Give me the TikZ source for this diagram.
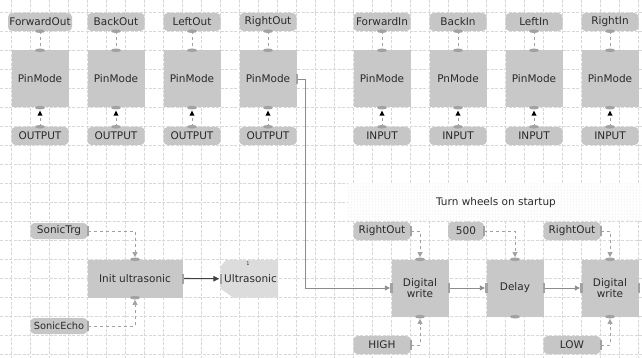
\documentclass[tikz,border=0pt]{standalone}
\usepackage{fontspec}
\setmainfont{DejaVu Sans}
\usetikzlibrary{arrows.meta,patterns}
\definecolor{boxc}{HTML}{C8C8C8}
\definecolor{lblc}{HTML}{C6C6C6}
\definecolor{ultc}{HTML}{DCDCDC}
\definecolor{txtc}{HTML}{2A2A2A}
\definecolor{portc}{HTML}{A2A2A2}
\definecolor{gridc}{HTML}{D8D8D8}
\definecolor{wirec}{HTML}{8C8C8C}
\definecolor{dashc}{HTML}{A0A0A0}
\newcommand\vportmark[1]{\fill[portc] (#1) ellipse (5pt and 1.8pt);}
\newcommand\hportmark[1]{\fill[portc] (#1) ++(-1.2,-5) rectangle ++(2.4,10);}
\begin{document}
\begin{tikzpicture}[x=1pt,y=-1pt,
  every node/.style={font=\fontsize{10.5}{11.8}\selectfont, text=txtc},
  blk/.style={fill=boxc, draw=none, minimum width=57pt, minimum height=57pt, inner sep=0pt, align=center},
  lbl/.style={fill=lblc, draw=none, rounded corners=4pt, minimum width=57pt, minimum height=18pt, inner sep=0pt},
  gridline/.style={gridc, line width=0.5pt, dash pattern=on 3pt off 1.5pt},
  dcon/.style={dashc, line width=0.6pt, dash pattern=on 3pt off 3pt},
  blktip/.style={-{Triangle[width=5pt,length=5pt]}, shorten >=2.2pt},
  wire/.style={wirec, line width=0.9pt, -{Triangle[width=5pt,length=5pt,fill=wirec]}, shorten >=1.5pt},
  darkwire/.style={black!75, line width=1.1pt, -{Triangle[width=5.5pt,length=6pt]}, shorten >=1.5pt}]
\useasboundingbox (0,0) rectangle (642,358);
\fill[white] (0,0) rectangle (642,358);
% grid
\foreach \k in {0,...,33} { \draw[gridline] (11.5+19*\k,0) -- (11.5+19*\k,358); }
\foreach \k in {0,...,18} { \draw[gridline] (0,12.5+19*\k) -- (642,12.5+19*\k); }
% comment background
\fill[white] (348,183) rectangle (642,221);
\fill[pattern=dots, pattern color=gray!28] (348,183) rectangle (642,221);
\node (title) at (496,203) {Turn wheels on startup};
% top row
\foreach \nm/\x/\labT/\labB/\mtxt/\tw in {
  fo/40/ForwardOut/OUTPUT/PinMode/64,
  bo/116/BackOut/OUTPUT/PinMode/57,
  lo/192/LeftOut/OUTPUT/PinMode/57,
  ro/268/RightOut/OUTPUT/PinMode/57,
  fi/382/ForwardIn/INPUT/PinMode/57,
  bi/458/BackIn/INPUT/PnMode/57,
  li/534/LeftIn/INPUT/PinMode/57,
  ri/610/RightIn/INPUT/PinMode/57}{
  \fill[white] (\x-6,31.5) rectangle (\x+6,50.5);
  \fill[white] (\x-6,107.5) rectangle (\x+6,126.5);
  \node[blk] (\nm) at (\x,79) {\mtxt};
  \node[lbl, minimum width=\tw pt] (\nm-t) at (\x,22) {\labT};
  \node[lbl] (\nm-b) at (\x,136) {\labB};
  \draw[dcon] (\nm-t.south) -- (\nm.north);
  \draw[dcon] (\nm-b.north) -- (\nm.south);
  \vportmark{\nm-t.south}
  \vportmark{\nm.north}
  \vportmark{\nm.south}
  \vportmark{\nm-b.north}
  \fill[black] ([yshift=-3pt]\nm.south) -- ++(-2.6,5) -- ++(5.2,0) -- cycle;
}
% lower left
\node[lbl, minimum height=16pt] (st) at (59,231) {SonicTrg};
\node[lbl, minimum height=16pt, font=\fontsize{9.8}{11}\selectfont] (se) at (59,326) {SonicEcho};
\node[blk, minimum width=95pt, minimum height=38pt] (iu) at (135,278.5) {Init ultrasonic};
\fill[ultc] (226,260) -- (278,260) -- (278,297.5) -- (233,297.5) -- (221,289) -- (221,266) -- cycle;
\node[minimum width=57pt, minimum height=37.5pt, inner sep=0pt] (us) at (249.5,278.75) {\hspace*{2pt}Ultrasonic};
\node[font=\fontsize{5}{5}\selectfont] (usn) at (248,264) {1};
\draw[dcon, blktip] (st.east) -| (iu.north);
\draw[dcon, blktip] (se.east) -| (iu.south);
\draw[darkwire] (iu.east) -- (us.west);
\vportmark{iu.north}
\vportmark{iu.south}
\hportmark{st.east}
\hportmark{se.east}
\hportmark{iu.east}
\hportmark{us.west}
% lower right
\node[blk] (dw1) at (420,288) {Digital\\write};
\node[blk] (dl) at (515,288) {Delay};
\node[blk] (dw2) at (610,288) {Digital\\write};
\node[lbl] (r1) at (382,231) {RightOut};
\node[lbl, minimum width=36pt] (d5) at (466,231) {500};
\node[lbl] (r2) at (572,231) {RightOut};
\node[lbl] (hi) at (382,345) {HIGH};
\node[lbl] (lw) at (572,345) {LOW};
\draw[dcon, blktip] (r1.east) -| (dw1.north);
\draw[dcon, blktip] (d5.east) -| (dl.north);
\draw[dcon, blktip] (r2.east) -| (dw2.north);
\draw[dcon, blktip] (hi.east) -| (dw1.south);
\draw[dcon, blktip] (lw.east) -| (dw2.south);
\draw[wire] (ro.east) -- ++(8.5,0) |- (dw1.west);
\draw[wire] (dw1.east) -- (dl.west);
\draw[wire] (dl.east) -- (dw2.west);
\foreach \p in {r1,d5,r2,hi,lw} { \hportmark{\p.east} }
\foreach \p in {dw1,dl,dw2} { \hportmark{\p.east} \hportmark{\p.west} \vportmark{\p.north} \vportmark{\p.south} }
\hportmark{ro.east}
\end{tikzpicture}
\end{document}
